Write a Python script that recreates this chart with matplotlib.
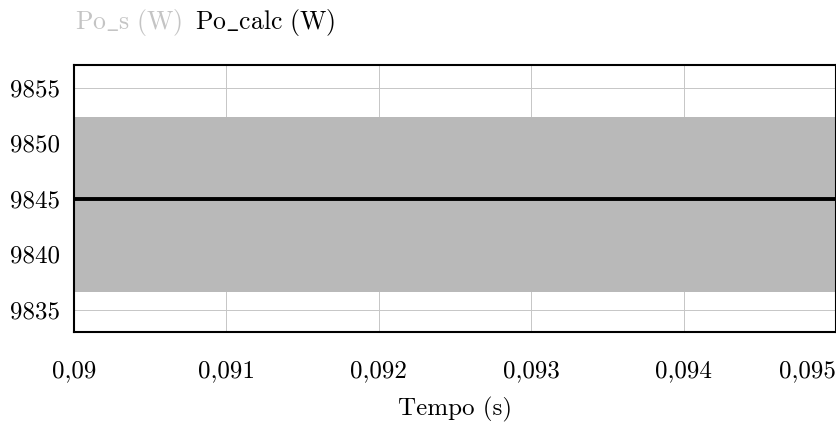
import matplotlib
matplotlib.use("Agg")
import matplotlib.pyplot as plt
import numpy as np

plt.rcParams['font.family'] = ['cmr10', 'DejaVu Serif']
plt.rcParams['mathtext.fontset'] = 'cm'
plt.rcParams['axes.formatter.use_mathtext'] = True

# Data
time_s = [0.09, 0.0950]
po_s_upper = [9852.4, 9852.4]   # upper envelope of fast ripple
po_s_lower = [9836.6, 9836.6]   # lower envelope of fast ripple
po_calc = [9845.0, 9845.0]

xticks = [0.09, 0.091, 0.092, 0.093, 0.094, 0.095]
xtick_labels = ["0,09", "0,091", "0,092", "0,093", "0,094", "0,095"]
yticks = [9835, 9840, 9845, 9850, 9855]
ytick_labels = ["9835", "9840", "9845", "9850", "9855"]

fig = plt.figure(figsize=(8.37, 4.30), dpi=100)
ax = fig.add_axes([74/837, 1-332/430, (836-74)/837, (332-64.5)/430])

ax.fill_between(time_s, po_s_lower, po_s_upper, color='#b9b9b9', lw=0, zorder=2)
ax.plot(time_s, po_calc, color='black', lw=2.8, zorder=3)

ax.set_xlim(0.09, 0.095)
ax.set_ylim(9833.0, 9857.1)
ax.set_xticks(xticks)
ax.set_xticklabels(xtick_labels)
ax.set_yticks(yticks)
ax.set_yticklabels(ytick_labels)
ax.tick_params(axis='both', length=0, labelsize=18)
ax.tick_params(axis='x', pad=20)
ax.tick_params(axis='y', pad=10)
ax.get_xticklabels()[-1].set_horizontalalignment('right')
ax.grid(True, color='#c6c6c6', lw=0.7, zorder=1)
ax.set_axisbelow(True)
for s in ax.spines.values():
    s.set_linewidth(1.5)
    s.set_color('black')
    s.set_zorder(5)

ax.set_xlabel("Tempo (s)", fontsize=18, labelpad=11)

fig.text(75/837, 1-22/430, r"$\mathrm{Po\_s\ (W)}$", color='#c4c4c4',
         fontsize=18.5, va='center', ha='left')
fig.text(195/837, 1-22/430, r"$\mathrm{Po\_calc\ (W)}$", color='black',
         fontsize=18.5, va='center', ha='left')

fig.savefig("out.png", dpi=100)
